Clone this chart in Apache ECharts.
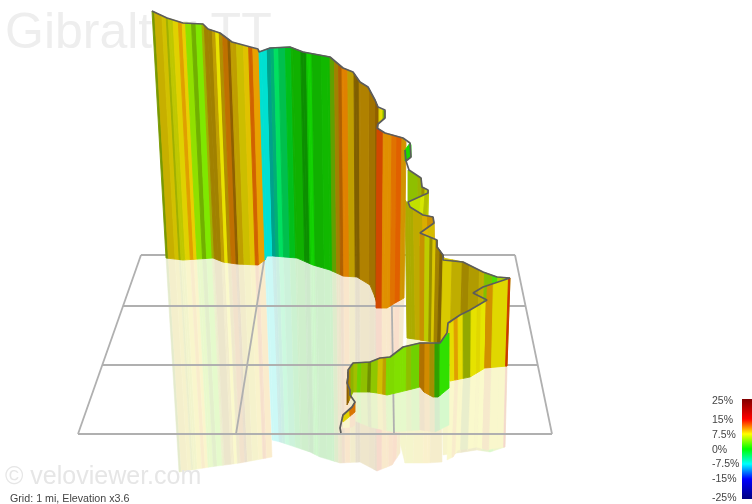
<!DOCTYPE html>
<html><head><meta charset="utf-8">
<style>html,body{margin:0;padding:0;background:#fff}#c{width:752px;height:504px}</style>
<script src="https://cdn.jsdelivr.net/npm/echarts@6/dist/echarts.min.js"></script>
</head><body><div id="c"></div>
<script>
// ---- colour scale ----
const scaleGrades=[-25,-15,-7.5,0,7.5,15,25];
const scaleColors=[[0,0,128],[0,0,255],[0,255,255],[0,255,0],[255,255,0],[255,0,0],[128,0,0]];
const scaleTicks=[25,15,7.5,0,-7.5,-15,-25];

// ---- route ridge line ----
const routeX=[152,167,183,203,208,220,232,258,259,270,290,303,330,343,353,360,368,375,378,385,385,378,377,385,403,410,411,406,405,406,409,421,422,428,428,408,410,423,433,434,420,437,437,443,443,463,483,497,510,483,473,487,470,460,448,447,440,420,403,390,380,370,353,348,348,347,350,350,355,352,343,340,341];
const routeY=[11,18,23,24,29,33,42,49,52,48,47,52,57,68,72,82,87,100,107,110,118,124,128,133,138,143,157,161,150,161,170,178,187,190,193,202,207,215,217,223,233,240,247,255,260,262,272,277,278,287,293,300,310,315,323,333,343,343,347,357,358,362,363,370,377,383,390,395,402,407,415,428,433];

// ---- ground grid ----
const gridLines=[[141,255,515,255],[123,306,525,306],[102,365,538,365],[78,434,552,434],[141,255,78,434],[265,255,236,434],[391,255,394,434],[515,255,552,434]];

// ---- wall segments: top line, ground line, reflection line, stripes (grade %, light) ----
const a1Top=[[152,11],[167,18],[183,23],[203,24],[208,29],[220,33],[232,42],[259,50]];
const a1Base=[[166,258],[183,260],[213,258],[223,262],[237,264],[258,265],[265,260]];
const a1Ghost=[[179,472],[210,467],[240,463],[272,457]];
const a1Edges=[157,159.5,166.5,170.7,172.7,177.3,182.3,186,189.3,195,199.3,205,207.3,215,218.3,221.7,225,230,232.7,238.3,245,250,254,260];
const a1Grade=[5.9,8.4,8.1,6.8,7.2,8,9.7,8.3,4.8,4.8,4.1,6.8,9,8.8,7.7,8.9,10.6,10,8.8,8,8.5,11.5,9.8];
const a1Light=[.6,.78,.82,.69,.78,.88,.88,.91,.88,.69,.91,.69,.63,.75,.91,.69,.75,.56,.75,.8,.88,.82,.91];

const a2Top=[[259,52],[270,48],[290,47],[303,52],[330,57],[343,68],[353,72],[360,82],[368,87],[375,100],[378,107]];
const a2Base=[[265,260],[267,256],[273,256],[297,258],[313,265],[330,270],[343,276],[357,277],[370,285],[375,297],[378,308]];
const a2Ghost=[[272,440],[280,442],[310,452],[320,457],[340,463],[360,462],[377,471]];
const a2Edges=[262.7,270.7,274,277.3,281.7,288.3,294,303.3,308.7,310,314,323.3,331.7,336,340,343.3,349,355,360,370,376,378.3];
const a2Grade=[-7,-6.5,-5,-3.2,-3,-1,.7,.6,.6,.6,.7,.7,4.5,9,10.9,10.7,8.8,9.4,9.5,9.7,10];
const a2Light=[.88,.63,.69,.88,.75,.75,.69,.56,.75,.82,.69,.72,.63,.63,.69,.88,.75,.5,.69,.63,.56];

const bTop=[[377,108],[385,111]];
const bBase=[[377,124],[385,118]];
const bEdges=[377,380,383,385];
const bGrade=[8,7.8,5.5];
const bLight=[.85,.9,.7];

const oTop=[[377,128],[385,133],[403,138],[406,142]];
const oBase=[[376,308],[387,308],[395,303],[404,298]];
const oGhost=[[377,471],[392,465],[400,453]];
const oEdges=[378.3,384.5,393,398,403,407];
const oGrade=[12.4,10.2,11.2,11.8,9.7];
const oLight=[.82,.88,.88,.88,.82];

const w1Top=[[405,150],[410,143],[411,145]];
const w1Base=[[405,161],[411,157]];
const w1Edges=[405,411];
const w1Grade=[1];
const w1Light=[.85];

const c1Top=[[408,170],[421,178],[422,187],[428,190],[428.5,193]];
const c1Base=[[408,216],[428,216]];
const c1Edges=[408,418,422,425,428.5];
const c1Grade=[5.6,6.5,8,7];
const c1Light=[.75,.7,.6,.8];

const w2Top=[[408,202],[428,193]];
const w2Base=[[408,216],[426,216]];
const w2Edges=[408,421,425,428];
const w2Grade=[6.5,7,7];
const w2Light=[.88,.9,.75];

const c2Top=[[405,200],[408,204],[410,207],[423,215],[433,217],[434,223]];
const c2Base=[[407,338],[436,342]];
const c2Edges=[404,413,423,428,435];
const c2Grade=[7.5,8.3,9,9.7];
const c2Light=[.67,.75,.85,.8];

const w3Top=[[420,233],[434,223]];
const w3Base=[[420,246],[434,246]];
const w3Edges=[420,428,434];
const w3Grade=[9,8.4];
const w3Light=[.9,.84];

const c3Top=[[420,233],[437,240],[437.5,247],[443,255],[444,258]];
const c3Base=[[420,340],[441,343]];
const c3Edges=[420,425,430,433,436,440,444];
const c3Grade=[9.5,7,8,8.2,9,9.2];
const c3Light=[.78,.8,.6,.85,.63,.5];

const cGhostBase=[[407,338],[441,342]];
const cGhost=[[400,443],[405,463],[427,463],[442,462]];
const cGhostEdges=[400,413,423,430,442];
const cGhostGrade=[7.5,8.3,9,9];
const cGhostLight=[.8,.85,.9,.8];

const eTop=[[443,258],[463,262],[483,272],[497,277],[510,278]];
const eBase=[[441,343],[507,366]];
const eGhost=[[443,455],[477,450],[490,452],[505,447]];
const eEdges=[444,453,463,470,480,485,493,498,510];
const eGrade=[8,8.2,8.7,8.4,8.2,5,2.5,6];
const eLight=[.85,.75,.63,.69,.75,.75,.88,.82];

const dTop=[[449,325],[460,315],[470,310],[487,300],[487.5,285.5],[510,278]];
const dBase=[[450,381],[470,377],[485,368],[507,366]];
const dGhost=[[447,460],[453,457],[458,450],[467,449],[477,447],[487,450],[497,448],[505,447]];
const dEdges=[448,453,457,462,470,476,480,485,492,507,508.5];
const dGrade=[7.8,9.7,7.8,6.5,7.6,7.8,7.5,9.8,7.8,13];
const dLight=[.9,.88,.9,.66,.9,.88,.9,.82,.88,.8];

const fTop=[[353,363],[370,362],[380,358],[390,357],[403,347],[420,343],[440,343],[449,333]];
const fBase=[[352,392],[370,392],[377,393],[387,395],[400,392],[420,387],[424,392],[433,397],[438,397],[449,388]];
const fGhost=[[353,420],[370,427],[393,432],[420,430],[435,432],[449,425]];
const fEdges=[353,358,361.7,368.3,371.7,378.3,383.3,386.7,395,406.7,411.7,420,425,430,435,440,449];
const fGrade=[6.3,4,5.6,5.8,5.4,8.1,8.8,4.4,4.3,5.6,4,10.2,10,8.3,2.2,1.6];
const fLight=[.75,.82,.75,.56,.78,.82,.75,.85,.88,.75,.82,.69,.82,.63,.63,.88];

const g1Top=[[347,383],[348,372],[353,363]];
const g1Base=[[347,405],[353,392]];
const g1Edges=[347,349,351,353];
const g1Grade=[10,9,6];
const g1Light=[.56,.7,.7];

const g2Top=[[342,417],[352,407],[355,402]];
const g2Base=[[343,422],[355,412]];
const g2Ghost=[[343,428],[352,427],[355,425]];
const g2Edges=[343,350,355];
const g2Grade=[8,11];
const g2Light=[.88,.85];

// ---- helpers ----
function yAt(p,x){
  if(x<=p[0][0])return p[0][1];
  for(let i=1;i<p.length;i++){if(x<=p[i][0]){const d=p[i][0]-p[i-1][0];return d<=0?p[i][1]:p[i-1][1]+(p[i][1]-p[i-1][1])*(x-p[i-1][0])/d;}}
  return p[p.length-1][1];
}
function rows(upper,lower,edges,grade,light){
  const ux0=upper[0][0],ux1=upper[upper.length-1][0],lx0=lower[0][0],lx1=lower[lower.length-1][0],e0=edges[0],e1=edges[edges.length-1];
  const fs=new Set();
  edges.forEach(e=>fs.add((e-e0)/(e1-e0)));
  upper.forEach(p=>fs.add((p[0]-ux0)/(ux1-ux0)));
  lower.forEach(p=>fs.add((p[0]-lx0)/(lx1-lx0)));
  const f=[...fs].sort((a,b)=>a-b);
  const out=[];
  for(let i=0;i<f.length-1;i++){
    if(f[i+1]-f[i]<1e-6)continue;
    const m=e0+(f[i]+f[i+1])/2*(e1-e0);
    let k=0;while(k<grade.length-1&&m>edges[k+1])k++;
    const ua=ux0+f[i]*(ux1-ux0),ub=ux0+f[i+1]*(ux1-ux0),la=lx0+f[i]*(lx1-lx0),lb=lx0+f[i+1]*(lx1-lx0);
    out.push([ua,yAt(upper,ua),ub,yAt(upper,ub),lb,yAt(lower,lb),la,yAt(lower,la),grade[k],light[k]]);
  }
  return out;
}
function gradeRgb(g){
  for(let i=1;i<scaleGrades.length;i++){
    if(g<=scaleGrades[i]){
      const t=(g-scaleGrades[i-1])/(scaleGrades[i]-scaleGrades[i-1]);
      return scaleColors[i].map((c,j)=>scaleColors[i-1][j]+(c-scaleColors[i-1][j])*t);
    }
  }
  return scaleColors[scaleColors.length-1];
}
function wallColor(g,l){const c=gradeRgb(g).map(v=>Math.round(v*l));return 'rgb('+c.join(',')+')';}
function ghostColor(g,l){const c=gradeRgb(g).map(v=>Math.round(v*l*.2+255*.8));return 'rgb('+c.join(',')+')';}

const ghostRows=[].concat(
  rows(a1Base,a1Ghost,a1Edges,a1Grade,a1Light),
  rows(a2Base,a2Ghost,a2Edges,a2Grade,a2Light),
  rows(oBase,oGhost,oEdges,oGrade,oLight),
  rows(cGhostBase,cGhost,cGhostEdges,cGhostGrade,cGhostLight),
  rows(eBase,eGhost,eEdges,eGrade,eLight),
  rows(dBase,dGhost,dEdges,dGrade,dLight),
  rows(fBase,fGhost,fEdges,fGrade,fLight),
  rows(g2Base,g2Ghost,g2Edges,g2Grade,g2Light)
);
const wallRows=[].concat(
  rows(bTop,bBase,bEdges,bGrade,bLight),
  rows(c1Top,c1Base,c1Edges,c1Grade,c1Light),
  rows(w2Top,w2Base,w2Edges,w2Grade,w2Light),
  rows(c2Top,c2Base,c2Edges,c2Grade,c2Light),
  rows(w3Top,w3Base,w3Edges,w3Grade,w3Light),
  rows(c3Top,c3Base,c3Edges,c3Grade,c3Light),
  rows(eTop,eBase,eEdges,eGrade,eLight),
  rows(a1Top,a1Base,a1Edges,a1Grade,a1Light),
  rows(a2Top,a2Base,a2Edges,a2Grade,a2Light),
  rows(oTop,oBase,oEdges,oGrade,oLight),
  rows(w1Top,w1Base,w1Edges,w1Grade,w1Light),
  rows(dTop,dBase,dEdges,dGrade,dLight),
  rows(fTop,fBase,fEdges,fGrade,fLight),
  rows(g1Top,g1Base,g1Edges,g1Grade,g1Light),
  rows(g2Top,g2Base,g2Edges,g2Grade,g2Light)
);

function quad(colorFn,blur){
  return function(params,api){
    const p=[0,2,4,6].map(i=>api.coord([api.value(i),api.value(i+1)]));
    const c=colorFn(api.value(8),api.value(9));
    return {type:'polygon',shape:{points:p},style:{fill:c,stroke:c,lineWidth:blur}};
  };
}

const chart=echarts.init(document.getElementById('c'),null,{renderer:'canvas'});
const FONT='"Liberation Sans",Arial,sans-serif';
chart.setOption({
  animation:false,
  backgroundColor:'#fff',
  title:[
    {text:'Gibraltar TT',left:5,top:9,padding:0,z:0,textStyle:{fontSize:50,fontWeight:'normal',color:'#eeeeee',fontFamily:FONT}},
    {text:'© veloviewer.com',left:5,top:465,padding:0,z:8,textStyle:{fontSize:25,fontWeight:'normal',color:'#e6e6e6',fontFamily:FONT}},
    {text:'Grid: 1 mi, Elevation x3.6',left:10,top:494,padding:0,z:8,textStyle:{fontSize:10.7,fontWeight:'normal',color:'#444',fontFamily:FONT}}
  ],
  grid:[
    {left:0,right:0,top:0,bottom:0},
    {left:742,top:401,width:10,height:100},
    {left:742,top:399,width:10,height:100}
  ],
  xAxis:[
    {type:'value',min:0,max:752,show:false,gridIndex:0},
    {type:'value',min:0,max:1,show:false,gridIndex:1},
    {type:'value',min:0,max:1,show:false,gridIndex:2}
  ],
  yAxis:[
    {type:'value',min:0,max:504,inverse:true,show:false,gridIndex:0},
    {type:'value',min:-25,max:25,gridIndex:1,position:'left',
     axisLine:{show:false},axisTick:{show:false},splitLine:{show:false},
     axisLabel:{show:true,customValues:scaleTicks,margin:30,align:'left',color:'#444',fontSize:10.5,fontFamily:FONT,showMinLabel:true,showMaxLabel:true,hideOverlap:false,formatter:v=>v+'%'}},
    {type:'value',min:-25,max:25,gridIndex:2,show:false}
  ],
  series:[
    {type:'custom',xAxisIndex:0,yAxisIndex:0,z:2,silent:true,clip:false,data:ghostRows,renderItem:quad(ghostColor,.5)},
    {type:'custom',xAxisIndex:0,yAxisIndex:0,z:3,silent:true,clip:false,data:gridLines,
     renderItem:function(params,api){
       const a=api.coord([api.value(0),api.value(1)]),b=api.coord([api.value(2),api.value(3)]);
       return {type:'line',shape:{x1:a[0],y1:a[1],x2:b[0],y2:b[1]},style:{stroke:'#b0b0b0',lineWidth:1.8}};
     }},
    {type:'custom',xAxisIndex:0,yAxisIndex:0,z:4,silent:true,clip:false,data:wallRows,renderItem:quad(wallColor,.9)},
    {type:'line',xAxisIndex:0,yAxisIndex:0,z:5,silent:true,symbol:'none',clip:false,
     data:routeX.map((x,i)=>[x,routeY[i]]),lineStyle:{color:'#5c5c5c',width:1.7}},
    {type:'custom',xAxisIndex:2,yAxisIndex:2,z:4,silent:true,data:[[0,25,1,-25]],
     renderItem:function(params,api){
       const a=api.coord([api.value(0),api.value(1)]),b=api.coord([api.value(2),api.value(3)]);
       const stops=scaleGrades.map((g,i)=>({offset:(25-g)/50,color:'rgb('+scaleColors[i].join(',')+')'})).reverse();
       return {type:'rect',shape:{x:a[0],y:a[1],width:b[0]-a[0],height:b[1]-a[1]},
         style:{fill:new echarts.graphic.LinearGradient(0,0,0,1,stops)}};
     }}
  ]
});
</script></body></html>
